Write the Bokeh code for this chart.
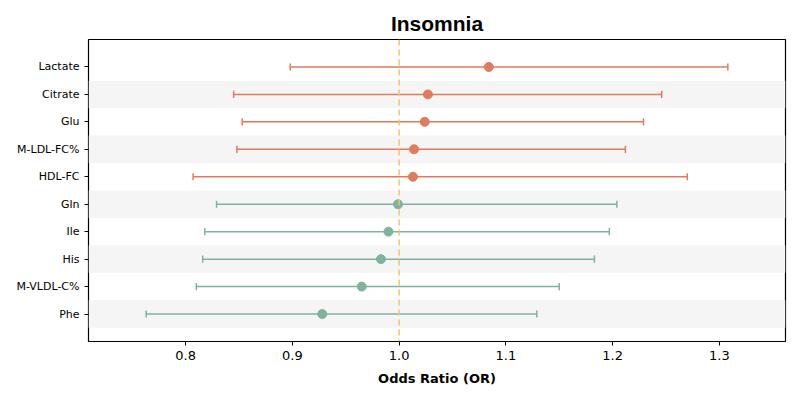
from bokeh.plotting import figure
from bokeh.models import ColumnDataSource, Span, FixedTicker
from bokeh.embed import file_html
from bokeh.resources import INLINE

labels = ["Phe", "M-VLDL-C%", "His", "Ile", "Gln",
          "HDL-FC", "M-LDL-FC%", "Glu", "Citrate", "Lactate"]
odds = [0.928, 0.965, 0.983, 0.990, 0.999, 1.013, 1.014, 1.024, 1.027, 1.084]
lower = [0.763, 0.810, 0.816, 0.818, 0.829, 0.807, 0.848, 0.853, 0.845, 0.898]
upper = [1.129, 1.150, 1.183, 1.197, 1.204, 1.270, 1.212, 1.229, 1.246, 1.308]

ORANGE = "#e07b5f"
GREEN = "#80b39c"

ypos = list(range(len(labels)))
colors = [ORANGE if o > 1.0 + 0.005 else GREEN for o in odds]
src = ColumnDataSource(dict(y=ypos, odds=odds, lo=lower, hi=upper, color=colors,
                            ylo=[y - 0.13 for y in ypos], yhi=[y + 0.13 for y in ypos]))

p = figure(width=792, height=392, output_backend="svg", toolbar_location=None,
           x_range=(0.709, 1.362), y_range=(-1, 10),
           min_border_left=88, min_border_right=7, min_border_top=39, min_border_bottom=51,
           title="Insomnia")
p.title.align = "center"
p.title.text_font = "Liberation Sans"
p.title.text_font_size = "21px"
p.title.text_font_style = "bold"
p.title.text_color = "black"
p.grid.visible = False
p.outline_line_color = "black"
p.outline_line_width = 1.2

# alternating stripes
stripes = [y for y in ypos if y % 2 == 0]
p.hbar(y=stripes, left=0.709, right=1.362, height=1.0, color="#f5f5f5", line_color=None)

p.add_layout(Span(location=1.0, dimension="height", line_color="#f5c26b",
                  line_dash="6 4", line_width=1.5))

p.segment(x0="lo", x1="hi", y0="y", y1="y", color="color", line_width=1.5, source=src)
p.segment(x0="lo", x1="lo", y0="ylo", y1="yhi", color="color", line_width=1.5, source=src)
p.segment(x0="hi", x1="hi", y0="ylo", y1="yhi", color="color", line_width=1.5, source=src)
p.scatter(x="odds", y="y", color="color", size=9, source=src)

p.yaxis.ticker = FixedTicker(ticks=ypos)
p.yaxis.major_label_overrides = {i: l for i, l in enumerate(labels)}
p.yaxis.minor_tick_line_color = None
p.xaxis.ticker = FixedTicker(ticks=[0.8, 0.9, 1.0, 1.1, 1.2, 1.3])
p.xaxis.major_label_overrides = {0.8: "0.8", 0.9: "0.9", 1.0: "1.0", 1.1: "1.1", 1.2: "1.2", 1.3: "1.3"}
p.xaxis.minor_tick_line_color = None
for ax in (p.xaxis, p.yaxis):
    ax.axis_line_color = None
    ax.major_tick_line_color = "black"
    ax.major_tick_in = 0
    ax.major_tick_out = 4
    ax.major_label_text_font = "DejaVu Sans"
    ax.major_label_text_color = "black"
p.yaxis.major_label_text_font_size = "11px"
p.xaxis.major_label_text_font_size = "13px"
p.xaxis.axis_label = "Odds Ratio (OR)"
p.xaxis.axis_label_text_font = "DejaVu Sans"
p.xaxis.axis_label_text_font_style = "bold"
p.xaxis.axis_label_text_font_size = "13px"
p.xaxis.axis_label_text_color = "black"
p.xaxis.axis_label_standoff = 8

open("out.html", "w").write(file_html(p, INLINE))
